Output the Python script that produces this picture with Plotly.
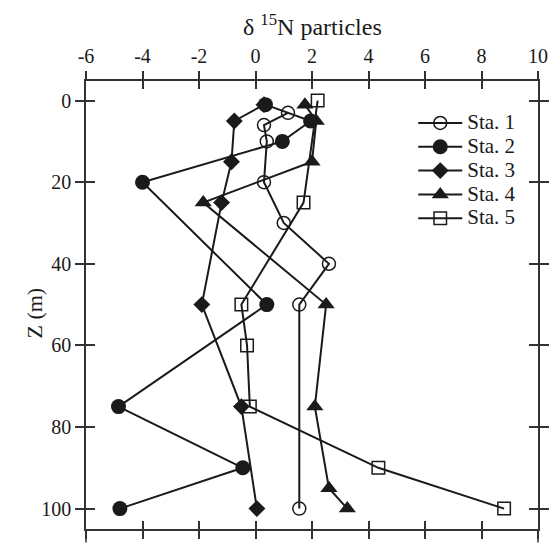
import plotly.graph_objects as go

# Data (delta 15N particles vs depth Z)
sta1_z = [3, 6, 10, 20, 30, 40, 50, 100]
sta1_x = [1.15, 0.3, 0.4, 0.3, 1.0, 2.6, 1.55, 1.55]

sta2_z = [1, 5, 10, 20, 50, 75, 90, 100]
sta2_x = [0.35, 1.95, 0.95, -4.0, 0.4, -4.85, -0.45, -4.8]

sta3_z = [1, 5, 15, 25, 50, 75, 100]
sta3_x = [0.3, -0.75, -0.85, -1.2, -1.9, -0.5, 0.05]

sta4_z = [1, 5, 15, 25, 50, 75, 95, 100]
sta4_x = [1.75, 2.15, 2.0, -1.85, 2.5, 2.1, 2.6, 3.25]

sta5_z = [0, 25, 50, 60, 75, 90, 100]
sta5_x = [2.2, 1.7, -0.5, -0.3, -0.2, 4.35, 8.8]

station_names = ["Sta. 1", "Sta. 2", "Sta. 3", "Sta. 4", "Sta. 5"]

x_ticks = [-6, -4, -2, 0, 2, 4, 6, 8, 10]
x_tick_labels = ["-6", "-4", "-2", "0", "2", "4", "6", "8", "10"]
y_ticks = [0, 20, 40, 60, 80, 100]
y_tick_labels = ["0", "20", "40", "60", "80", "100"]

FONT = "Liberation Serif"
INK = "#1a1a1a"
AX = "#333333"

fig = go.Figure()

markers = [
    dict(symbol="circle-open", size=13, color=INK, line=dict(width=1.5, color=INK)),
    dict(symbol="circle", size=15, color=INK),
    dict(symbol="diamond", size=13, color=INK),
    dict(symbol="triangle-up", size=15, color=INK),
    dict(symbol="square-open", size=12.5, color=INK, line=dict(width=1.5, color=INK)),
]
xs_all = [sta1_x, sta2_x, sta3_x, sta4_x, sta5_x]
zs_all = [sta1_z, sta2_z, sta3_z, sta4_z, sta5_z]

for name, xs, zs, mk in zip(station_names, xs_all, zs_all, markers):
    label = '<span style="font-size:21px">' + name + '</span>'
    fig.add_trace(go.Scatter(x=xs, y=zs, name=label, mode="lines+markers",
                             line=dict(color=INK, width=2), marker=mk,
                             cliponaxis=False))

# helper trace for the inner-tick overlay axes
fig.add_trace(go.Scatter(x=[None], y=[None], xaxis="x2", yaxis="y2",
                         showlegend=False, hoverinfo="skip"))

common_x = dict(range=[-6, 10], tickvals=x_ticks, ticktext=x_tick_labels,
                showline=True, linecolor=AX,
                linewidth=1.5, ticklen=8, tickwidth=1.5, tickcolor=AX,
                showgrid=False, zeroline=False, mirror="ticks")
common_y = dict(range=[105, -4.8], tickvals=y_ticks, ticktext=y_tick_labels,
                showline=True, linecolor=AX,
                linewidth=1.5, ticklen=9, tickwidth=1.5, tickcolor=AX,
                showgrid=False, zeroline=False, mirror="ticks")

fig.update_layout(
    width=558, height=548,
    margin=dict(l=86, r=13, t=81, b=9),
    paper_bgcolor="white", plot_bgcolor="white",
    font=dict(family=FONT, size=20, color=INK),
    xaxis=dict(side="top", ticks="outside",
               tickfont=dict(family=FONT, size=20, color=INK),
               **common_x),
    yaxis=dict(ticks="outside",
               tickfont=dict(family=FONT, size=20, color=INK),
               **common_y),
    xaxis2=dict(overlaying="x", side="top", anchor="y2", ticks="inside",
                showticklabels=False, **common_x),
    yaxis2=dict(overlaying="y", side="left", anchor="x2", ticks="inside",
                showticklabels=False, **common_y),
    legend=dict(x=0.724, y=0.944, xanchor="left", yanchor="top",
                bgcolor="rgba(0,0,0,0)", borderwidth=0,
                font=dict(family=FONT, size=16, color=INK),
                tracegroupgap=0, itemwidth=44),
    showlegend=True,
    annotations=[
        dict(text="δ <sup>15</sup>N particles", xref="paper", yref="paper",
             x=0.5, y=1.124, xanchor="center", yanchor="middle",
             showarrow=False, font=dict(family=FONT, size=24, color=INK)),
        dict(text="Z (m)", xref="paper", yref="paper", textangle=-90,
             x=-0.113, y=0.483, xanchor="center", yanchor="middle",
             showarrow=False, font=dict(family=FONT, size=22, color=INK)),
    ],
)

# vertical frame lines extend slightly below the bottom edge
for xp in (0, 1):
    fig.add_shape(type="line", xref="paper", yref="paper", x0=xp, x1=xp,
                  y0=-0.03, y1=0, line=dict(color=AX, width=1.5))

fig.write_html("out.html")
